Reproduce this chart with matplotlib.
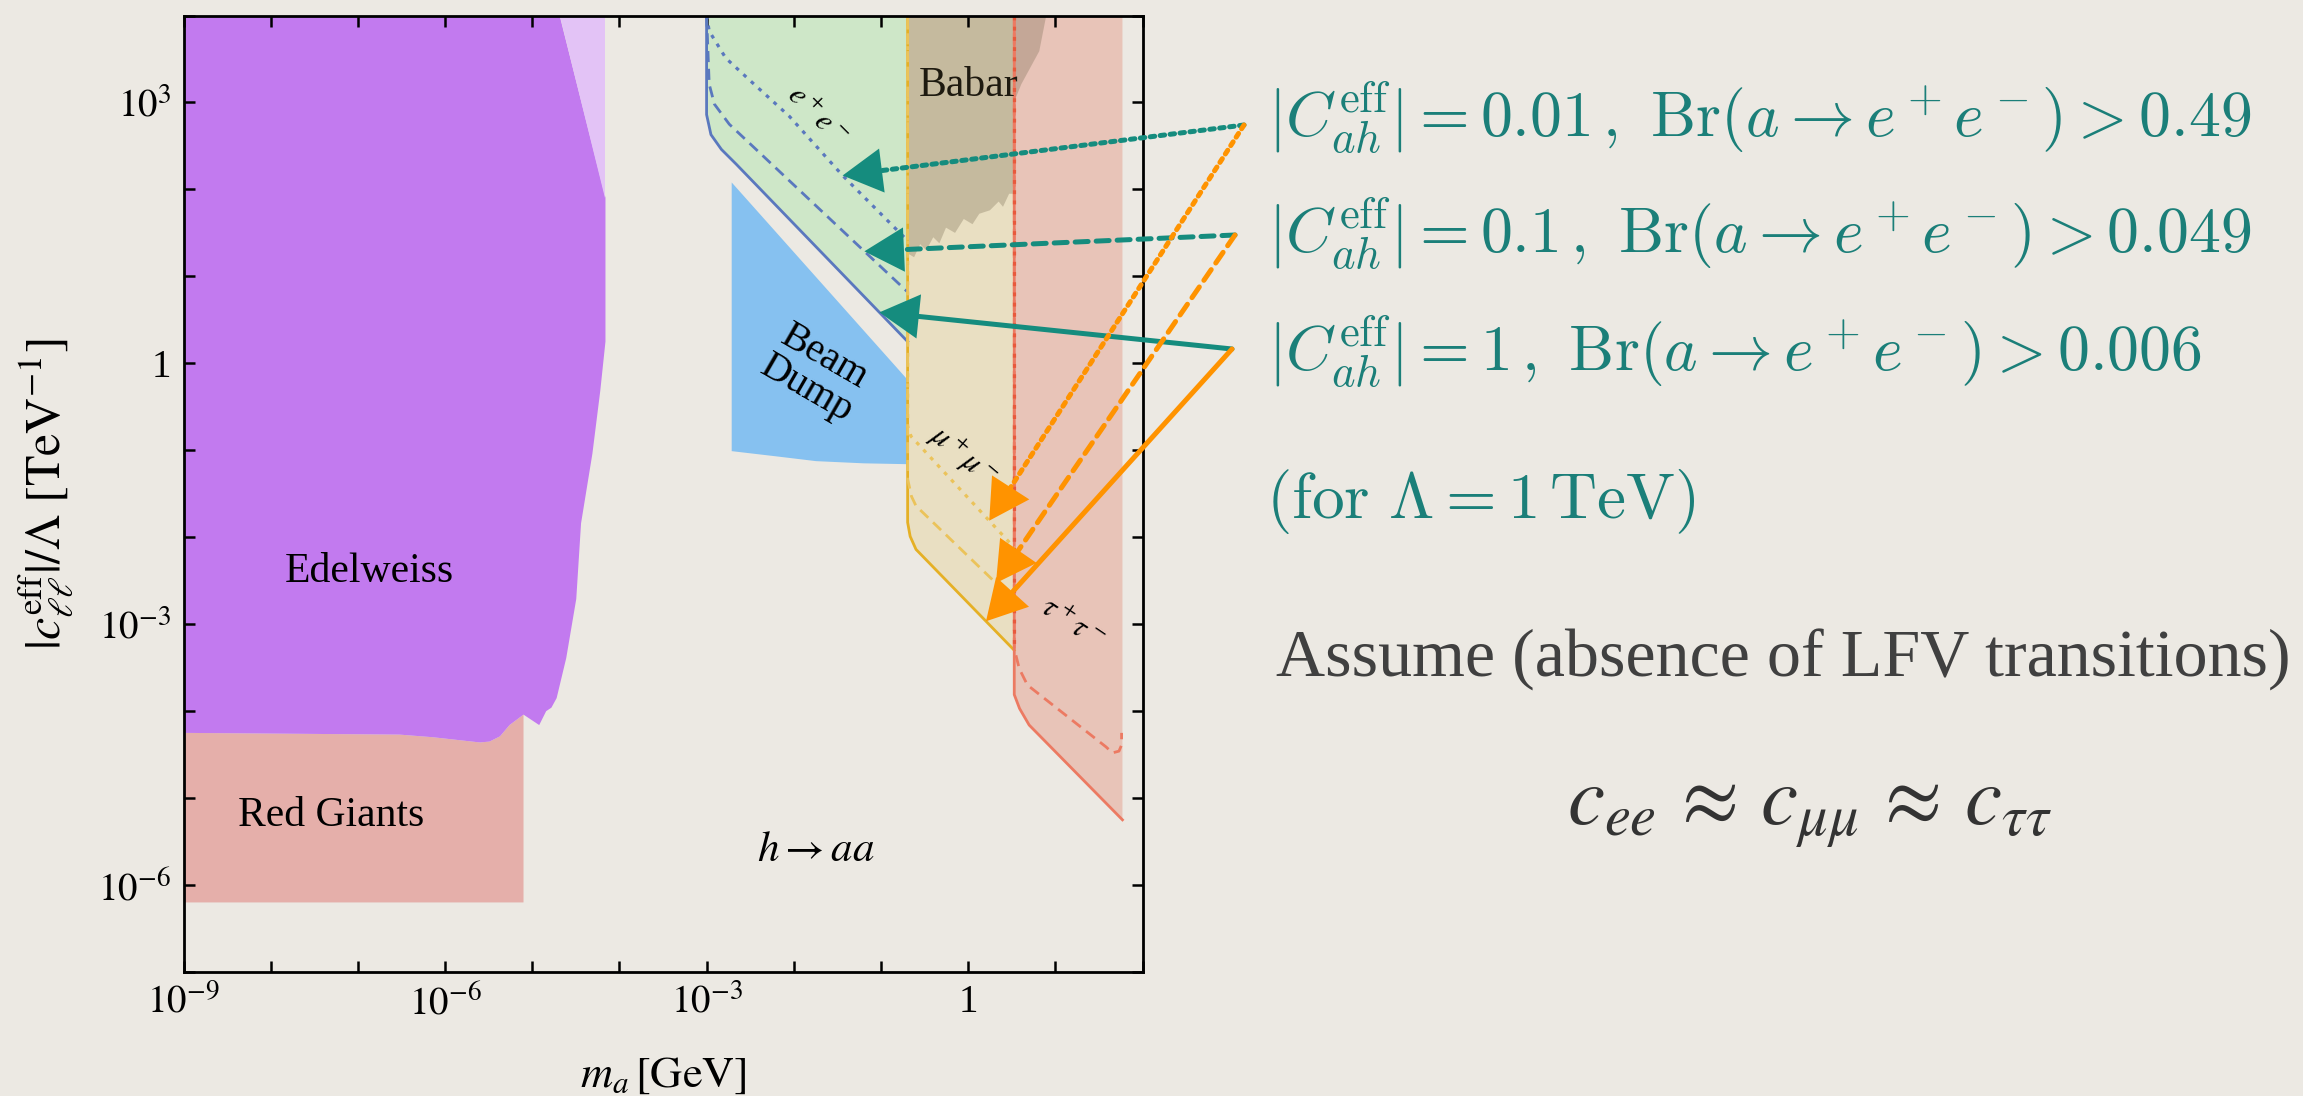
import numpy as np
import matplotlib
matplotlib.use("Agg")
import matplotlib.pyplot as plt
from matplotlib.ticker import FixedLocator, FuncFormatter, NullLocator

plt.rcParams['font.family'] = ['Liberation Serif', 'DejaVu Serif']
plt.rcParams['mathtext.fontset'] = 'stix'

PAPER = '#ECE9E3'
TEAL_TEXT = '#1B7F79'
TEAL = '#158C7E'
ORANGE = '#FF9300'

# thresholds in log10(m_a / GeV): 2 m_e, 2 m_mu, 2 m_tau, m_h / 2
M_EE, M_MUMU, M_TAUTAU, M_HALF = -3.0, -0.694, 0.529, 1.77
C_TOP = 4.0

# all curves below: log10(m_a / GeV), log10(|c_ll^eff| / Lambda * TeV)
edel_m = [-9, -4.686, -4.16, -4.16, -4.22, -4.31, -4.44, -4.495, -4.61, -4.72,
          -4.78, -4.84, -4.92, -5.10, -5.26, -5.37, -5.49, -5.60, -6.14, -6.52, -9]
edel_c = [4, 4, 1.905, 0.25, -0.32, -1.04, -1.84, -2.71, -3.39, -3.85,
          -3.96, -4.00, -4.16, -4.04, -4.16, -4.29, -4.35, -4.36, -4.30, -4.27, -4.25]

edel_light_m = [-4.686, -4.16, -4.16]
edel_light_c = [4.0, 4.0, 1.905]

rg_m = [-9, -5.10, -5.10, -5.26, -5.37, -5.49, -5.60, -6.14, -6.52, -9]
rg_c = [-6.20, -6.20, -4.04, -4.16, -4.29, -4.35, -4.36, -4.30, -4.27, -4.25]

beam_m = [-2.712, -0.827, -0.694, -0.694, -1.2, -1.744, -2.2, -2.712]
beam_c = [2.08, -0.04, -0.19, -1.16, -1.15, -1.125, -1.07, -1.01]

# Babar: upper part reaches into the tau band, ragged lower edge
babar_m = [-0.694, 0.896, 0.816, 0.61, 0.529, 0.529, 0.47, 0.40, 0.35, 0.25, 0.128,
           0.05, -0.05, -0.15, -0.254, -0.33, -0.40, -0.48, -0.55, -0.62, -0.694]
babar_c = [4.0, 4.0, 3.59, 3.21, 3.01, 1.95, 1.95, 1.80, 1.86, 1.76, 1.72,
           1.60, 1.66, 1.50, 1.56, 1.38, 1.45, 1.30, 1.37, 1.22, 1.265]

# a -> e+e- reach for |C_ah| = 1, 0.1, 0.01
ee_solid_m = [-3.0, -3.0, -2.95, -2.83, -2.66, -0.694]
ee_solid_c = [4.0, 2.86, 2.63, 2.46, 2.29, 0.25]
ee_dashed_m = [-3.0, -2.97, -2.91, -2.74, -0.694]
ee_dashed_c = [4.0, 3.21, 2.98, 2.75, 0.82]
ee_dotted_m = [-3.0, -2.97, -2.78, -2.51, -2.05, -1.44, -0.694]
ee_dotted_c = [4.0, 3.82, 3.51, 3.26, 2.84, 2.16, 1.41]

# a -> mu+mu-
mm_solid_m = [-0.694, -0.694, -0.665, -0.598, 0.529]
mm_solid_c = [4.0, -1.83, -1.99, -2.14, -3.30]
mm_dashed_m = [-0.694, -0.694, -0.65, -0.598, 0.529]
mm_dashed_c = [4.0, -1.33, -1.53, -1.64, -2.73]
mm_dotted_m = [-0.694, -0.694, -0.655, 0.529]
mm_dotted_c = [4.0, -0.72, -0.84, -2.12]

# a -> tau+tau-
tt_solid_m = [0.529, 0.529, 0.59, 0.70, 1.77]
tt_solid_c = [4.0, -3.81, -3.97, -4.16, -5.25]
tt_dashed_m = [0.529, 0.529, 0.586, 0.68, 1.58, 1.656, 1.73, 1.76, 1.76]
tt_dashed_c = [4.0, -3.28, -3.51, -3.70, -4.41, -4.48, -4.46, -4.39, -4.25]
tt_dotted_m = [0.529, 0.529]
tt_dotted_c = [4.0, -3.28]

# where the arrows land (log10 m_a)
teal_tip_m = [-1.44, -1.19, -1.018]
orange_tip_m = [0.242, 0.319, 0.205]

rows = [r'$|C_{ah}^{\mathrm{eff}}| = 0.01\,,\ \mathrm{Br}(a \to e^+e^-) > 0.49$',
        r'$|C_{ah}^{\mathrm{eff}}| = 0.1\,,\ \mathrm{Br}(a \to e^+e^-) > 0.049$',
        r'$|C_{ah}^{\mathrm{eff}}| = 1\,,\ \mathrm{Br}(a \to e^+e^-) > 0.006$']

W, H = 2303, 1096
fig = plt.figure(figsize=(W / 100, H / 100), dpi=100, facecolor=PAPER)
ax = fig.add_axes([183.5 / W, 1 - 972 / H, 959 / W, 956.5 / H])
ax.set_facecolor(PAPER)
ax.set_xscale('log')
ax.set_yscale('log')
ax.set_xlim(1e-9, 1e2)
ax.set_ylim(1e-7, 1e4)


def pw(v):
    return 10.0 ** np.asarray(v, dtype=float)


def fill(m, c, color, z=1, **kw):
    ax.fill(pw(m), pw(c), color=color, lw=0, zorder=z, **kw)


def band(m, c, right):
    return list(m) + [right], list(c) + [C_TOP]


fill(rg_m, rg_c, '#E5AFAA')
fill(edel_m, edel_c, '#C27AEF')
fill(edel_light_m, edel_light_c, '#E3C3F6')
fill(beam_m, beam_c, '#86C1F0')

gm, gc = band(ee_solid_m, ee_solid_c, M_MUMU)
fill(gm, gc, '#CEE7C8')
ym, yc = band(mm_solid_m, mm_solid_c, M_TAUTAU)
fill(ym, yc, '#E9DFC2')
rm, rc = band(tt_solid_m, tt_solid_c, M_HALF)
fill(rm, rc, '#E8C4B8')
fill(babar_m, babar_c, '#73664D', z=1.5, alpha=0.30)

dot = (0, (1.2, 2.0))
dash = (0, (4.0, 2.4))
BLUE, GOLD, GOLD_L, RED = '#5A78BE', '#E5B025', '#EBC35A', '#EC7A62'
for m, c, col in [(ee_solid_m, ee_solid_c, BLUE), (mm_solid_m, mm_solid_c, GOLD),
                  (tt_solid_m, tt_solid_c, RED)]:
    ax.plot(pw(m), pw(c), color=col, lw=2.0, zorder=2)
for m, c, col in [(ee_dashed_m, ee_dashed_c, BLUE), (mm_dashed_m, mm_dashed_c, GOLD_L),
                  (tt_dashed_m, tt_dashed_c, RED)]:
    ax.plot(pw(m), pw(c), color=col, lw=2.0, ls=dash, zorder=2)
for m, c, col in [(ee_dotted_m, ee_dotted_c, BLUE), (mm_dotted_m, mm_dotted_c, GOLD_L),
                  (tt_dotted_m, tt_dotted_c, '#E8593C')]:
    ax.plot(pw(m), pw(c), color=col, lw=2.3, ls=dot, zorder=2)

# region labels
ax.text(pw(-6.87), pw(-2.40), 'Edelweiss', fontsize=30, ha='center', va='center', zorder=3)
ax.text(pw(-7.31), pw(-5.20), 'Red Giants', fontsize=30, ha='center', va='center', zorder=3)
ax.text(pw(0.0), pw(3.19), 'Babar', fontsize=30, ha='center', va='center', zorder=3, color='#1E1A10')
ax.text(pw(-1.75), pw(-0.11), 'Beam\nDump', fontsize=29, ha='center', va='center',
        rotation=-30, linespacing=1.0, zorder=3)
ax.text(pw(-1.747), pw(-5.60), r'$h \to aa$', fontsize=31, ha='center', va='center', zorder=3)
ax.text(pw(-1.744), pw(2.84), r'$e^+e^-$', fontsize=22, ha='center', va='center', rotation=-45, zorder=3)
ax.text(pw(-0.064), pw(-1.07), r'$\mu^+\mu^-$', fontsize=22, ha='center', va='center', rotation=-40, zorder=3)
ax.text(pw(1.18), pw(-3.01), r'$\tau^+\tau^-$', fontsize=22, ha='center', va='center', rotation=-34, zorder=3)

# axes styling
ax.xaxis.set_major_locator(FixedLocator(pw(np.arange(-9, 3))))
ax.yaxis.set_major_locator(FixedLocator(pw(np.arange(-7, 5))))
ax.xaxis.set_minor_locator(NullLocator())
ax.yaxis.set_minor_locator(NullLocator())


def dec_label(v, pos):
    e = int(round(np.log10(v)))
    if e % 3:
        return ''
    if e == 0:
        return '1'
    return r'$10^{%d}$' % e


ax.xaxis.set_major_formatter(FuncFormatter(dec_label))
ax.yaxis.set_major_formatter(FuncFormatter(dec_label))
ax.tick_params(which='major', direction='in', top=True, right=True, length=8, width=1.8,
               labelsize=28, pad=9)
for s in ax.spines.values():
    s.set_linewidth(2.0)
ax.set_xlabel(r'$m_a\,[\mathrm{GeV}]$', fontsize=32, labelpad=24)
ax.set_ylabel(r'$|c_{\ell\ell}^{\mathrm{eff}}|/\Lambda\ [\mathrm{TeV}^{-1}]$', fontsize=36, labelpad=16)

# arrows from the benchmark lines to the reach curves:
# styled shaft first, then a solid filled head on top
tails = [(1244 / W, 1 - 125 / H), (1235 / W, 1 - 235 / H), (1232 / W, 1 - 349 / H)]
styles = [(0, (0.9, 1.1)), (0, (2.6, 1.6)), '-']
teal_curves = [(ee_dotted_m, ee_dotted_c), (ee_dashed_m, ee_dashed_c), (ee_solid_m, ee_solid_c)]
orange_curves = [(mm_dotted_m, mm_dotted_c), (mm_dashed_m, mm_dashed_c), (mm_solid_m, mm_solid_c)]

arrow_list = ([(t, s, m, cv, TEAL) for t, s, m, cv in zip(tails, styles, teal_tip_m, teal_curves)] +
              [(t, s, m, cv, ORANGE) for t, s, m, cv in zip(tails, styles, orange_tip_m, orange_curves)])
for tail, ls, tm, (cm_, cc_), col in arrow_list:
    tip = (pw(tm), pw(np.interp(tm, cm_[1:], cc_[1:])))
    ax.annotate('', xy=tip, xycoords='data', xytext=tail, textcoords='figure fraction',
                annotation_clip=False, zorder=10,
                arrowprops=dict(arrowstyle='-', color=col, lw=3.6, linestyle=ls,
                                shrinkA=0, shrinkB=14))
    ax.annotate('', xy=tip, xycoords='data', xytext=tail, textcoords='figure fraction',
                annotation_clip=False, zorder=11,
                arrowprops=dict(arrowstyle='-|>,head_length=0.75,head_width=0.42', color=col,
                                lw=0, shrinkA=0, shrinkB=0, mutation_scale=38))

row_y = [1 - 118 / H, 1 - 234 / H, 1 - 352 / H]
for txt, y in zip(rows, row_y):
    fig.text(1268 / W, y, txt, fontsize=46, color=TEAL_TEXT, va='center', ha='left', math_fontfamily='cm')
fig.text(1266 / W, 1 - 502 / H, r'$(\mathrm{for}\ \Lambda = 1\,\mathrm{TeV})$', fontsize=47,
         color=TEAL_TEXT, va='center', ha='left', math_fontfamily='cm')

fig.text(1276 / W, 1 - 660 / H, 'Assume (absence of LFV transitions)', fontsize=49, color='#404040',
         va='center', ha='left')
fig.text(1809 / W, 1 - 812 / H, r'$c_{ee}\,\approx\,c_{\mu\mu}\,\approx\,c_{\tau\tau}$', fontsize=60,
         color='#333333', va='center', ha='center')

fig.savefig('out.png', dpi=100, facecolor=PAPER)
